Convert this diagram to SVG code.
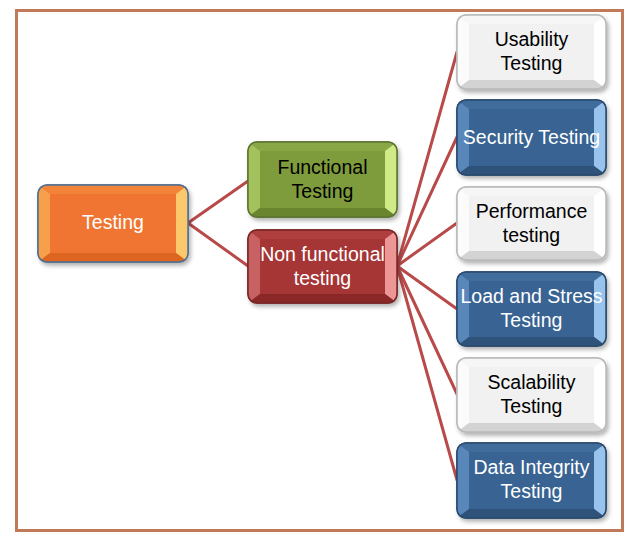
<svg xmlns="http://www.w3.org/2000/svg" width="638" height="545" viewBox="0 0 638 545">
<style>
text{font-family:"Liberation Sans",Arial,sans-serif;font-size:19.5px;text-anchor:middle}
.w{fill:#ffffff}.k{fill:#000000}
.conn line{stroke:#b84a4a;stroke-width:3;stroke-linecap:round}
.or .base{fill:#f07530;stroke:#4f6f90}.or .t{fill:#f2843a}.or .l{fill:#f6a04c}.or .r{fill:#fcc86c}.or .b{fill:#dc6620}
.gr .base{fill:#7f9c3d;stroke:#5c7430}.gr .t{fill:#89a744}.gr .l{fill:#a3c15c}.gr .r{fill:#d0ea88}.gr .b{fill:#69852e}
.rd .base{fill:#a63535;stroke:#7a2626}.rd .t{fill:#af3f3f}.rd .l{fill:#c86262}.rd .r{fill:#ec9696}.rd .b{fill:#8a2828}
.bl .base{fill:#386392;stroke:#2a4a6d}.bl .t{fill:#416d9d}.bl .l{fill:#5987b9}.bl .r{fill:#98c3ec}.bl .b{fill:#2e5279}
.wh .base{fill:#f1f1f1;stroke:#b9b9b9}.wh .t{fill:#f6f6f6}.wh .l{fill:#fbfbfb}.wh .r{fill:#ffffff}.wh .b{fill:#d3d3d3}
.base{stroke-width:1.5}
</style>
<defs>
<filter id="sh" x="-10%" y="-10%" width="125%" height="130%">
<feDropShadow dx="2" dy="3" stdDeviation="2" flood-color="#000" flood-opacity="0.3"/>
</filter>
<clipPath id="rc" clipPathUnits="objectBoundingBox"><rect x="0" y="0" width="1" height="1" rx="0.06" ry="0.11"/></clipPath>
</defs>
<rect x="16.5" y="10.5" width="606" height="520" fill="#fff" stroke="#c07a5a" stroke-width="3"/>
<g id="connectors" class="conn">
<line x1="188" y1="223" x2="248" y2="181"/>
<line x1="188" y1="223" x2="248" y2="266"/>
<line x1="397" y1="266" x2="457" y2="52"/>
<line x1="397" y1="266" x2="457" y2="137"/>
<line x1="397" y1="266" x2="457" y2="223"/>
<line x1="397" y1="266" x2="457" y2="309"/>
<line x1="397" y1="266" x2="457" y2="394"/>
<line x1="397" y1="266" x2="457" y2="480"/>
</g>
<g id="n-testing" class="or">
<rect class="base" x="38" y="185" width="150" height="77" rx="9" filter="url(#sh)"/>
<g clip-path="url(#rc)">
<polygon class="t" points="38,185 188,185 176,194 50,194"/>
<polygon class="l" points="38,185 50,194 50,253 38,262"/>
<polygon class="r" points="188,185 188,262 176,253 176,194"/>
<polygon class="b" points="38,262 50,253 176,253 188,262"/>
</g>
<rect x="38" y="185" width="150" height="77" rx="9" fill="none" stroke="#4f6f90" stroke-width="1.5"/>
<text class="w" x="113" y="229">Testing</text>
</g>
<g id="n-functional" class="gr">
<rect class="base" x="248" y="142" width="149" height="75" rx="9" filter="url(#sh)"/>
<g clip-path="url(#rc)">
<polygon class="t" points="248,142 397,142 385,151 260,151"/>
<polygon class="l" points="248,142 260,151 260,208 248,217"/>
<polygon class="r" points="397,142 397,217 385,208 385,151"/>
<polygon class="b" points="248,217 260,208 385,208 397,217"/>
</g>
<rect x="248" y="142" width="149" height="75" rx="9" fill="none" stroke="#5c7430" stroke-width="1.5"/>
<text class="k" x="322.5" y="174">Functional</text>
<text class="k" x="322.5" y="198">Testing</text>
</g>
<g id="n-nonfunctional" class="rd">
<rect class="base" x="248" y="230" width="149" height="73" rx="9" filter="url(#sh)"/>
<g clip-path="url(#rc)">
<polygon class="t" points="248,230 397,230 385,239 260,239"/>
<polygon class="l" points="248,230 260,239 260,294 248,303"/>
<polygon class="r" points="397,230 397,303 385,294 385,239"/>
<polygon class="b" points="248,303 260,294 385,294 397,303"/>
</g>
<rect x="248" y="230" width="149" height="73" rx="9" fill="none" stroke="#7a2626" stroke-width="1.5"/>
<text class="w" x="322.5" y="261">Non functional</text>
<text class="w" x="322.5" y="285">testing</text>
</g>
<g id="n-usability" class="wh">
<rect class="base" x="457" y="15" width="149" height="74" rx="9" filter="url(#sh)"/>
<g clip-path="url(#rc)">
<polygon class="t" points="457,15 606,15 594,24 469,24"/>
<polygon class="l" points="457,15 469,24 469,80 457,89"/>
<polygon class="r" points="606,15 606,89 594,80 594,24"/>
<polygon class="b" points="457,89 469,80 594,80 606,89"/>
</g>
<rect x="457" y="15" width="149" height="74" rx="9" fill="none" stroke="#b9b9b9" stroke-width="1.5"/>
<text class="k" x="531.5" y="46">Usability</text>
<text class="k" x="531.5" y="70">Testing</text>
</g>
<g id="n-security" class="bl">
<rect class="base" x="457" y="100" width="149" height="75" rx="9" filter="url(#sh)"/>
<g clip-path="url(#rc)">
<polygon class="t" points="457,100 606,100 594,109 469,109"/>
<polygon class="l" points="457,100 469,109 469,166 457,175"/>
<polygon class="r" points="606,100 606,175 594,166 594,109"/>
<polygon class="b" points="457,175 469,166 594,166 606,175"/>
</g>
<rect x="457" y="100" width="149" height="75" rx="9" fill="none" stroke="#2a4a6d" stroke-width="1.5"/>
<text class="w" x="531.5" y="144">Security Testing</text>
</g>
<g id="n-performance" class="wh">
<rect class="base" x="457" y="187" width="149" height="73" rx="9" filter="url(#sh)"/>
<g clip-path="url(#rc)">
<polygon class="t" points="457,187 606,187 594,196 469,196"/>
<polygon class="l" points="457,187 469,196 469,251 457,260"/>
<polygon class="r" points="606,187 606,260 594,251 594,196"/>
<polygon class="b" points="457,260 469,251 594,251 606,260"/>
</g>
<rect x="457" y="187" width="149" height="73" rx="9" fill="none" stroke="#b9b9b9" stroke-width="1.5"/>
<text class="k" x="531.5" y="218">Performance</text>
<text class="k" x="531.5" y="242">testing</text>
</g>
<g id="n-load" class="bl">
<rect class="base" x="457" y="272" width="149" height="74" rx="9" filter="url(#sh)"/>
<g clip-path="url(#rc)">
<polygon class="t" points="457,272 606,272 594,281 469,281"/>
<polygon class="l" points="457,272 469,281 469,337 457,346"/>
<polygon class="r" points="606,272 606,346 594,337 594,281"/>
<polygon class="b" points="457,346 469,337 594,337 606,346"/>
</g>
<rect x="457" y="272" width="149" height="74" rx="9" fill="none" stroke="#2a4a6d" stroke-width="1.5"/>
<text class="w" x="531.5" y="303">Load and Stress</text>
<text class="w" x="531.5" y="327">Testing</text>
</g>
<g id="n-scalability" class="wh">
<rect class="base" x="457" y="358" width="149" height="74" rx="9" filter="url(#sh)"/>
<g clip-path="url(#rc)">
<polygon class="t" points="457,358 606,358 594,367 469,367"/>
<polygon class="l" points="457,358 469,367 469,423 457,432"/>
<polygon class="r" points="606,358 606,432 594,423 594,367"/>
<polygon class="b" points="457,432 469,423 594,423 606,432"/>
</g>
<rect x="457" y="358" width="149" height="74" rx="9" fill="none" stroke="#b9b9b9" stroke-width="1.5"/>
<text class="k" x="531.5" y="389">Scalability</text>
<text class="k" x="531.5" y="413">Testing</text>
</g>
<g id="n-dataintegrity" class="bl">
<rect class="base" x="457" y="443" width="149" height="75" rx="9" filter="url(#sh)"/>
<g clip-path="url(#rc)">
<polygon class="t" points="457,443 606,443 594,452 469,452"/>
<polygon class="l" points="457,443 469,452 469,509 457,518"/>
<polygon class="r" points="606,443 606,518 594,509 594,452"/>
<polygon class="b" points="457,518 469,509 594,509 606,518"/>
</g>
<rect x="457" y="443" width="149" height="75" rx="9" fill="none" stroke="#2a4a6d" stroke-width="1.5"/>
<text class="w" x="531.5" y="474">Data Integrity</text>
<text class="w" x="531.5" y="498">Testing</text>
</g>
</svg>
